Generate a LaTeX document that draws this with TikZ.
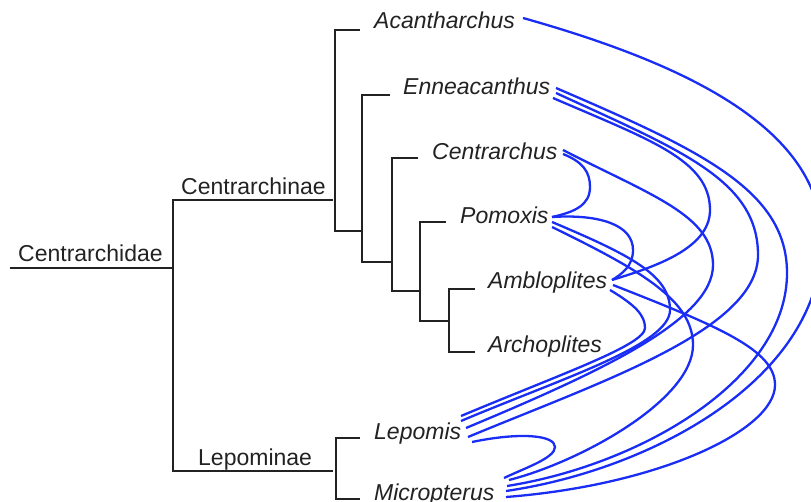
\documentclass[tikz,border=0pt]{standalone}
\usepackage{fontspec}
\setmainfont{Liberation Sans}
\definecolor{treec}{HTML}{222222}
\definecolor{hybc}{RGB}{25,45,245}
\tikzset{
  tree/.style={draw=treec, line width=2.4pt},
  hyb/.style={draw=hybc, line width=2.3pt},
  sp/.style={anchor=base west, inner sep=0pt, text=treec, font=\fontsize{23}{27}\selectfont\itshape},
  gp/.style={anchor=base west, inner sep=0pt, text=treec, font=\fontsize{23}{27}\selectfont},
}
\begin{document}
\begin{tikzpicture}[x=1pt,y=-1pt]
\useasboundingbox (0,0) rectangle (811,502);
\clip (0,0) rectangle (811,502);
% labels
\node[sp] (acan) at (374,29) {Acantharchus};
\node[sp] (enne) at (403,95) {Enneacanthus};
\node[sp] (cent) at (432,160) {Centrarchus};
\node[sp] (pomo) at (460,224) {Pomoxis};
\node[sp] (ambl) at (488,289) {Ambloplites};
\node[sp] (arch) at (488,353) {Archoplites};
\node[sp] (lepo) at (374,439) {Lepomis};
\node[sp] (micr) at (374,500) {Micropterus};
\node[gp] (cdae) at (18,262) {Centrarchidae};
\node[gp] (cnae) at (181,195) {Centrarchinae};
\node[gp] (lnae) at (198,465) {Lepominae};
% tree
\draw[tree] (10,268) -- (173,268);
\draw[tree] (333,200) -- (173,200) -- (173,471) -- (333,471);
\draw[tree] (360,30) -- (335,30) -- (335,231) -- (362,231);
\draw[tree] (390,95) -- (362,95) -- (362,262) -- (392,262);
\draw[tree] (418,158) -- (392,158) -- (392,291) -- (420,291);
\draw[tree] (446,222) -- (420,222) -- (420,321) -- (449,321);
\draw[tree] (475,289) -- (449,289) -- (449,352) -- (475,352);
\draw[tree] (360,438) -- (336,438) -- (336,499) -- (360,499);
% endpoints
\coordinate (ac1) at (523,18);
\coordinate (en1) at (556,88);
\coordinate (en2) at (556,93);
\coordinate (en3) at (553,98);
\coordinate (ce1) at (563,150);
\coordinate (ce2) at (563,154);
\coordinate (po1) at (552,217);
\coordinate (po2) at (552,222);
\coordinate (po3) at (552,227);
\coordinate (am1) at (612,280);
\coordinate (am2) at (613,285);
\coordinate (am3) at (610,290);
\coordinate (le1) at (461,416);
\coordinate (le2) at (461,421);
\coordinate (le3) at (466,428);
\coordinate (le4) at (468,437);
\coordinate (le5) at (472,442);
\coordinate (mi1) at (504,478);
\coordinate (mi2) at (509,480);
\coordinate (mi3) at (507,486);
\coordinate (mi4) at (506,491);
\coordinate (mi5) at (506,497);
% hybridisation curves
\draw[hyb] (ac1) .. controls (690,65) and (822,130) .. (822,240) .. controls (822,380) and (650,470) .. (mi4);
\draw[hyb] (en1) .. controls (700,150) and (787,190) .. (787,273) .. controls (787,380) and (640,465) .. (mi3);
\draw[hyb] (en2) .. controls (680,150) and (758,180) .. (758,255) .. controls (758,330) and (600,382) .. (le4);
\draw[hyb] (en3) .. controls (650,140) and (710,160) .. (710,210) .. controls (710,250) and (650,268) .. (am1);
\draw[hyb] (ce1) .. controls (650,195) and (713,215) .. (713,265) .. controls (713,320) and (600,372) .. (le3);
\draw[hyb] (ce2) .. controls (583,162) and (590,172) .. (590,187) .. controls (590,205) and (575,212) .. (po1);
\draw[hyb] (po1) .. controls (600,214) and (633,225) .. (633,250) .. controls (633,266) and (622,274) .. (am1);
\draw[hyb] (po2) .. controls (630,255) and (670,275) .. (670,310) .. controls (670,345) and (560,379) .. (le2);
\draw[hyb] (po3) .. controls (640,270) and (693,300) .. (693,345) .. controls (693,400) and (580,462) .. (mi2);
\draw[hyb] (am2) .. controls (720,327) and (775,350) .. (775,385) .. controls (775,430) and (660,485) .. (mi5);
\draw[hyb] (am3) .. controls (635,305) and (645,315) .. (645,328) .. controls (645,345) and (561,374) .. (le1);
\draw[hyb] (le5) .. controls (520,432) and (555,435) .. (555,447) .. controls (555,458) and (525,468) .. (mi1);
\end{tikzpicture}
\end{document}
